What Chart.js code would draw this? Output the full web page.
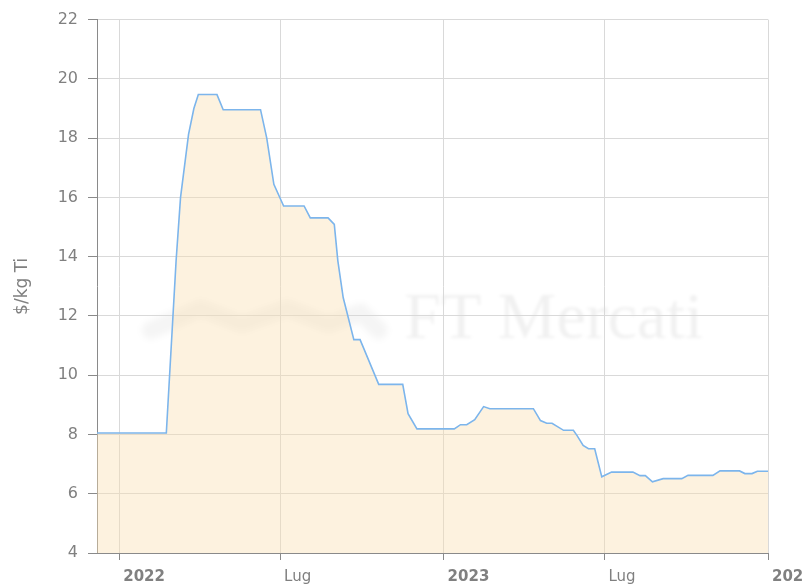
<!DOCTYPE html>
<html>
<head>
<meta charset="utf-8">
<script src="https://cdn.jsdelivr.net/npm/chart.js@4/dist/chart.umd.min.js"></script>
<style>
html,body{margin:0;padding:0;background:#fff;}
#wrap{width:802px;height:584px;overflow:hidden;}
</style>
</head>
<body>
<div id="wrap"><canvas id="c" width="802" height="584"></canvas></div>
<script>
// ---- data ----
const dates = [
  '2021-12-07','2022-02-23','2022-03-06','2022-03-11','2022-03-20','2022-03-26','2022-03-31',
  '2022-04-21','2022-04-28','2022-06-09','2022-06-16','2022-06-24','2022-07-05','2022-07-28',
  '2022-08-04','2022-08-24','2022-08-31','2022-09-04','2022-09-10','2022-09-22','2022-09-29',
  '2022-10-20','2022-11-16','2022-11-22','2022-12-02','2023-01-13','2023-01-20','2023-01-27',
  '2023-02-05','2023-02-15','2023-02-22','2023-04-12','2023-04-20','2023-04-27','2023-05-03',
  '2023-05-16','2023-05-27','2023-05-31','2023-06-07','2023-06-13','2023-06-20','2023-06-28',
  '2023-07-09','2023-08-02','2023-08-10','2023-08-16','2023-08-24','2023-09-05','2023-09-26',
  '2023-10-03','2023-10-31','2023-11-08','2023-11-30','2023-12-06','2023-12-14','2023-12-20',
  '2024-01-01'
];
const prices = [
  8.05, 8.05, 13.86, 16.0, 18.13, 19.0, 19.47,
  19.47, 18.96, 18.96, 18.0, 16.44, 15.71, 15.71,
  15.31, 15.31, 15.09, 13.86, 12.62, 11.2, 11.2,
  9.69, 9.69, 8.7, 8.19, 8.19, 8.33, 8.33,
  8.5, 8.94, 8.87, 8.87, 8.47, 8.38, 8.38,
  8.14, 8.14, 7.97, 7.63, 7.52, 7.52, 6.57,
  6.73, 6.73, 6.61, 6.61, 6.40, 6.51, 6.51,
  6.62, 6.62, 6.77, 6.77, 6.68, 6.68, 6.76,
  6.76
];
const xTickDates  = ['2022-01-01','2022-07-01','2023-01-01','2023-07-01','2024-01-01'];
const xTickLabels = ['2022','Lug','2023','Lug','2024'];
const xTickBold   = [true, false, true, false, true];
const xStartDate = '2021-12-07';
const xEndDate   = '2024-01-01';
const yMin = 4, yMax = 22, yStep = 2;
const yTitle = '$/kg Ti';
const watermarkText = 'FT Mercati';

// ---- helpers ----
const DAY = 864e5;
const base = Date.parse('2022-01-01');
const toDay = d => Math.round((Date.parse(d) - base) / DAY);
const points = dates.map((d, i) => ({x: toDay(d), y: prices[i]}));
const xTickValues = xTickDates.map(toDay);

const watermark = {
  id: 'watermark',
  beforeDraw(chart) {
    const {ctx, chartArea: a} = chart;
    ctx.save();
    ctx.filter = 'blur(3px)';
    // logo: soft zigzag
    const lx = a.left + (a.right - a.left) * 0.08;
    const lw = (a.right - a.left) * 0.34;
    const cy = a.top + (a.bottom - a.top) * 0.56;
    ctx.strokeStyle = 'rgba(0,0,0,0.04)';
    ctx.lineWidth = 18;
    ctx.lineJoin = 'round';
    ctx.lineCap = 'round';
    ctx.beginPath();
    ctx.moveTo(lx, cy + 12);
    ctx.lineTo(lx + lw * 0.22, cy - 10);
    ctx.lineTo(lx + lw * 0.40, cy + 6);
    ctx.lineTo(lx + lw * 0.60, cy - 10);
    ctx.lineTo(lx + lw * 0.78, cy + 6);
    ctx.lineTo(lx + lw * 0.92, cy - 6);
    ctx.lineTo(lx + lw, cy + 12);
    ctx.stroke();
    // text
    ctx.filter = 'blur(1.5px)';
    ctx.fillStyle = 'rgba(0,0,0,0.055)';
    ctx.font = '66px "Liberation Serif", serif';
    ctx.textBaseline = 'middle';
    ctx.textAlign = 'left';
    ctx.fillText(watermarkText, a.left + (a.right - a.left) * 0.458, cy + 2);
    ctx.restore();
  }
};

new Chart(document.getElementById('c'), {
  type: 'line',
  data: {
    datasets: [{
      data: points,
      borderColor: '#7cb5ec',
      borderWidth: 1.6,
      backgroundColor: 'rgba(250,222,175,0.40)',
      fill: 'start',
      pointRadius: 0,
      pointHoverRadius: 0,
      tension: 0
    }]
  },
  options: {
    responsive: false,
    animation: false,
    events: [],
    devicePixelRatio: 1,
    layout: {padding: {left: 0, right: 34, top: 18, bottom: 0}},
    plugins: {legend: {display: false}, tooltip: {enabled: false}},
    scales: {
      x: {
        type: 'linear',
        min: toDay(xStartDate),
        max: toDay(xEndDate),
        afterBuildTicks: s => { s.ticks = xTickValues.map(v => ({value: v})); },
        afterFit: s => { s.height = 31; s.paddingLeft = 0; s.paddingRight = 0; },
        border: {color: '#8a8a8a', width: 1},
        grid: {color: '#d9d9d9', lineWidth: 1, tickLength: 7, tickColor: '#8a8a8a', drawTicks: true},
        ticks: {
          autoSkip: false,
          maxRotation: 0,
          align: 'start',
          labelOffset: 4,
          padding: 8,
          color: '#808080',
          font: c => ({family: '"DejaVu Sans", Verdana, sans-serif', size: 15,
                       weight: (c.index !== undefined && xTickBold[c.index]) ? 'bold' : 'normal'}),
          callback: (v, i) => xTickLabels[i]
        }
      },
      y: {
        min: yMin,
        max: yMax,
        afterFit: s => { s.width = 97; },
        border: {color: '#8a8a8a', width: 1},
        grid: {color: '#d9d9d9', lineWidth: 1, tickLength: 9, tickColor: '#8a8a8a', drawTicks: true},
        ticks: {
          stepSize: yStep,
          padding: 10,
          color: '#808080',
          font: {family: '"DejaVu Sans", Verdana, sans-serif', size: 16}
        },
        title: {
          display: true,
          text: yTitle,
          color: '#808080',
          padding: {top: 12, bottom: 0},
          font: {family: '"DejaVu Sans", Verdana, sans-serif', size: 17}
        }
      }
    }
  },
  plugins: [watermark]
});
</script>
</body>
</html>
